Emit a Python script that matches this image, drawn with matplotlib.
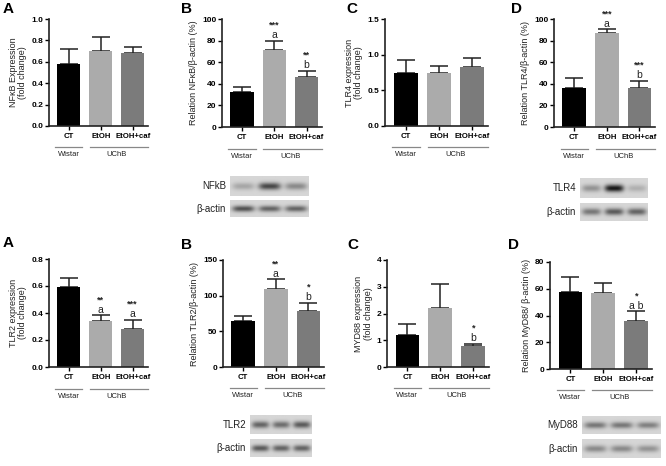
import numpy as np
import matplotlib
matplotlib.use('Agg')
import matplotlib.pyplot as plt
from matplotlib import transforms

plt.rcParams['font.family'] = ['Liberation Sans', 'DejaVu Sans']

W, H = 666, 466

groups = ['CT', 'EtOH', 'EtOH+caf']
bar_colors = ['#000000', '#ababab', '#7b7b7b']

# top row
nfkb_mrna = [0.58, 0.70, 0.68]
nfkb_mrna_err = [0.14, 0.13, 0.06]
nfkb_prot = [32, 71, 46]
nfkb_prot_err = [5, 9, 6]
tlr4_mrna = [0.75, 0.74, 0.83]
tlr4_mrna_err = [0.18, 0.10, 0.13]
tlr4_prot = [36, 87, 36]
tlr4_prot_err = [9, 3.5, 7]

# bottom row
tlr2_mrna = [0.596, 0.343, 0.278]
tlr2_mrna_err = [0.06, 0.04, 0.07]
tlr2_prot = [64, 110, 79]
tlr2_prot_err = [7, 13, 11]
myd88_mrna = [1.21, 2.19, 0.79]
myd88_mrna_err = [0.39, 0.90, 0.085]
myd88_prot = [57.3, 56.9, 36.2]
myd88_prot_err = [11.7, 7.4, 6.9]

# (bar index, stars, letter)
nfkb_prot_marks = [(1, '***', 'a'), (2, '**', 'b')]
tlr4_prot_marks = [(1, '***', 'a'), (2, '***', 'b')]
tlr2_mrna_marks = [(1, '**', 'a'), (2, '***', 'a')]
tlr2_prot_marks = [(1, '**', 'a'), (2, '*', 'b')]
myd88_mrna_marks = [(2, '*', 'b')]
myd88_prot_marks = [(2, '*', 'a b')]

# western blot band strength per lane (0 = none, 1 = very dark)
nfkb_bands = [0.25, 0.75, 0.4]
nfkb_actin = [0.7, 0.6, 0.6]
tlr4_bands = [0.35, 1.0, 0.2]
tlr4_actin = [0.5, 0.65, 0.6]
tlr2_bands = [0.6, 0.55, 0.65]
tlr2_actin = [0.65, 0.6, 0.6]
myd88_bands = [0.5, 0.5, 0.45]
myd88_actin = [0.4, 0.4, 0.35]

fig = plt.figure(figsize=(W / 100, H / 100), dpi=100)


def rect(x0, y0, x1, y1):
    return [x0 / W, 1 - y1 / H, (x1 - x0) / W, (y1 - y0) / H]


def panel(box, vals, errs, ylim, yticks, fmt, ylabel, marks=()):
    ax = fig.add_axes(rect(*box))
    x = np.arange(len(groups))
    ax.bar(x, vals, width=0.72, color=bar_colors, zorder=2)
    ax.errorbar(x, vals, yerr=[[0] * len(vals), errs], fmt='none',
                ecolor='#222222', elinewidth=1.1, capsize=6.5,
                capthick=1.1, zorder=1)
    ax.set_xlim(-0.62, 2.48)
    ax.set_ylim(*ylim)
    ax.set_yticks(yticks)
    ax.set_yticklabels([fmt.format(t) for t in yticks])
    ax.set_xticks(x)
    ax.set_xticklabels(groups)
    for s in ['top', 'right']:
        ax.spines[s].set_visible(False)
    for s in ['left', 'bottom']:
        ax.spines[s].set_linewidth(1.2)
        ax.spines[s].set_color('#222222')
    ax.tick_params(axis='y', length=3, width=1, labelsize=6, pad=1)
    ax.tick_params(axis='x', length=3, width=1, labelsize=5.6, pad=2)
    for lbl in ax.get_xticklabels() + ax.get_yticklabels():
        lbl.set_fontweight('bold')
    ax.set_ylabel(ylabel, fontsize=6.5, color='#222222', labelpad=3,
                  linespacing=1.1)

    trans = transforms.blended_transform_factory(ax.transData, ax.transAxes)
    ax.plot([-0.42, 0.42], [-0.2, -0.2], transform=trans, color='#888888',
            lw=0.9, clip_on=False)
    ax.plot([0.66, 2.48], [-0.2, -0.2], transform=trans, color='#888888',
            lw=0.9, clip_on=False)
    ax.text(0, -0.27, 'Wistar', transform=trans, ha='center', va='center',
            fontsize=5.5, color='#222222')
    ax.text(1.5, -0.27, 'UChB', transform=trans, ha='center', va='center',
            fontsize=5.5, color='#222222')

    for i, stars, letter in marks:
        top = vals[i] + errs[i]
        ax.annotate(letter, (i, top), xytext=(0, 0.5),
                    textcoords='offset points', ha='center', va='bottom',
                    fontsize=7.5, color='#222222')
        ax.annotate(stars, (i, top), xytext=(0, 9.5),
                    textcoords='offset points', ha='center', va='baseline',
                    fontsize=6.5, fontweight='bold', color='#222222')
    return ax


def blot(box, bands, label, bg=0.84):
    ax = fig.add_axes(rect(*box))
    h, w = 40, 160
    yy, xx = np.mgrid[0:h, 0:w]
    img = np.full((h, w), bg)
    n = len(bands)
    for k, s in enumerate(bands):
        c = (k + 0.5) * w / n
        img = img - s * 0.75 * np.exp(-((xx - c) / (w * 0.14)) ** 4
                                      - ((yy - h / 2) / (h * 0.18)) ** 2)
    ax.imshow(img, cmap='gray', vmin=0, vmax=1, aspect='auto',
              interpolation='bilinear')
    ax.set_axis_off()
    fig.text((box[0] - 4) / W, 1 - (box[1] + box[3]) / 2 / H, label,
             ha='right', va='center', fontsize=7, color='#222222')


# top row
panel((49, 19, 148, 126), nfkb_mrna, nfkb_mrna_err, (0, 1.0),
      [0, 0.2, 0.4, 0.6, 0.8, 1.0], '{:.1f}',
      'NF\u03baB Expression\n(fold change)')
panel((222, 19, 322, 127), nfkb_prot, nfkb_prot_err, (0, 100),
      [0, 20, 40, 60, 80, 100], '{:.0f}',
      'Relation NF\u03baB/\u03b2-actin (%)', nfkb_prot_marks)
panel((385, 19, 488, 126), tlr4_mrna, tlr4_mrna_err, (0, 1.5),
      [0, 0.5, 1.0, 1.5], '{:.1f}', 'TLR4 expression\n(fold change)')
panel((554, 19, 655, 127), tlr4_prot, tlr4_prot_err, (0, 100),
      [0, 20, 40, 60, 80, 100], '{:.0f}',
      'Relation TLR4/\u03b2-actin (%)', tlr4_prot_marks)

# bottom row
panel((49, 259, 148, 367), tlr2_mrna, tlr2_mrna_err, (0, 0.8),
      [0, 0.2, 0.4, 0.6, 0.8], '{:.1f}', 'TLR2 expression\n(fold change)',
      tlr2_mrna_marks)
panel((223, 260, 324, 367), tlr2_prot, tlr2_prot_err, (0, 150),
      [0, 50, 100, 150], '{:.0f}', 'Relation TLR2/\u03b2-actin (%)',
      tlr2_prot_marks)
panel((387, 260, 489, 367), myd88_mrna, myd88_mrna_err, (0, 4),
      [0, 1, 2, 3, 4], '{:.0f}', 'MYD88 expression\n(fold change)',
      myd88_mrna_marks)
panel((550, 262, 652, 369), myd88_prot, myd88_prot_err, (0, 80),
      [0, 20, 40, 60, 80], '{:.0f}',
      'Relation MyD88/ \u03b2-actin (%)', myd88_prot_marks)

# blots
blot((230, 176, 309, 196), nfkb_bands, 'NFkB')
blot((230, 200, 309, 217), nfkb_actin, '\u03b2-actin')
blot((580, 178, 648, 198), tlr4_bands, 'TLR4')
blot((580, 203, 648, 221), tlr4_actin, '\u03b2-actin')
blot((250, 415, 311, 434), tlr2_bands, 'TLR2')
blot((250, 439, 311, 457), tlr2_actin, '\u03b2-actin')
blot((582, 416, 661, 434), myd88_bands, 'MyD88')
blot((582, 439, 661, 458), myd88_actin, '\u03b2-actin')

# panel letters
for lx, ly, letter in [(3, 2, 'A'), (181, 2, 'B'), (346, 2, 'C'),
                       (511, 2, 'D'), (3, 236, 'A'), (181, 238, 'B'),
                       (347, 238, 'C'), (508, 238, 'D')]:
    fig.text(lx / W, 1 - ly / H, letter, ha='left', va='top',
             fontsize=11, fontweight='bold')

fig.savefig('out.png', dpi=100)
